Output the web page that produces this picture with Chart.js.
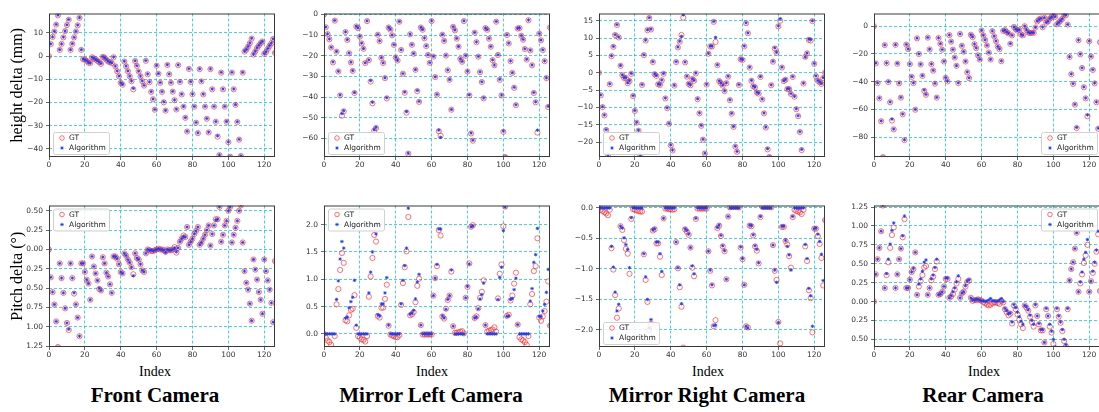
<!DOCTYPE html>
<html>
<head>
<meta charset="utf-8">
<script src="https://cdn.jsdelivr.net/npm/chart.js@4.4.0/dist/chart.umd.min.js"></script>
<style>
  body { margin: 0; width: 1099px; height: 412px; overflow: hidden; background: #fff; position: relative; }
  canvas { position: absolute; }
  .lbl { position: absolute; font-family: "Liberation Serif", serif; color: #000; white-space: nowrap; transform: translateX(-50%); }
  .idx { font-size: 14px; line-height: 14px; top: 365px; }
  .cam { font-size: 21px; line-height: 21px; top: 385px; font-weight: bold; }
</style>
</head>
<body>
<div class="lbl idx" style="left:155px">Index</div>
<div class="lbl idx" style="left:432px">Index</div>
<div class="lbl idx" style="left:708px">Index</div>
<div class="lbl idx" style="left:984px">Index</div>
<div class="lbl cam" style="left:155px">Front Camera</div>
<div class="lbl cam" style="left:431px">Mirror Left Camera</div>
<div class="lbl cam" style="left:707px">Mirror Right Camera</div>
<div class="lbl cam" style="left:983px">Rear Camera</div>
<script>
// ---- data: index 0..126 for every panel ----
var seriesNames = ["GT", "Algorithm"];

var frontHeightGT = [
  0, 5.2, 8.3, 10.6, 13.6, 17.6, 2.7, 5.3, 8.1, 10.8,
  13.4, 15.7, 2.7, 5.3, 8.1, 10.6, 13.3, 16.5, 2.7, -1.3,
  -1.5, -2.0, -2.8, -2.9, -0.5, -1.0, -1.4, -2.0, -2.6, -3.3,
  -0.3, -0.7, -1.5, -2.3, -2.6, -3.0, -0.5, -4.4, -6.5, -8.7,
  -11.5, -12.3, -2.3, -4.4, -6.5, -8.7, -10.8, -14.3, -2.1, -4.2,
  -6.6, -8.7, -10.8, -12.7, -2.0, -7.8, -11.2, -15.4, -18.6, -23.1,
  -4.1, -7.6, -11.5, -15.4, -19.9, -23.5, -3.8, -7.8, -11.5, -15.3,
  -19.0, -23.0, -3.9, -11.1, -16.5, -21.8, -26.6, -32.5, -5.5, -11.1,
  -16.4, -21.8, -28.7, -33.2, -5.6, -10.9, -16.5, -21.8, -27.0, -32.9,
  -5.6, -14.3, -21.8, -28.3, -34.7, -42.7, -7.1, -14.3, -21.8, -28.3,
  -37.1, -43.4, -7.1, -14.3, -21.0, -28.4, -36.0, -43.1, -7.1, 2.0,
  2.8, 4.1, 5.6, 7.6, 0.7, 2.0, 3.5, 4.6, 5.6, 6.3,
  1.0, 1.8, 3.2, 4.5, 5.6, 7.4, 1.4
];
var frontHeightAlg = [
  0, 5.3, 8.3, 10.7, 13.7, 17.7, 2.8, 5.3, 8.2, 10.9,
  13.5, 15.8, 2.8, 5.4, 8.1, 10.7, 13.4, 16.6, 2.8, -1.2,
  -1.5, -1.9, -2.7, -2.9, -0.5, -0.9, -1.4, -1.9, -2.5, -3.2,
  -0.2, -0.7, -1.4, -2.2, -2.6, -2.9, -0.4, -4.3, -6.4, -8.6,
  -11.4, -12.2, -2.2, -4.3, -6.4, -8.6, -10.7, -13.9, -2.0, -4.1,
  -6.5, -8.6, -10.7, -12.6, -1.9, -7.7, -11.1, -15.3, -18.5, -23.0,
  -4.0, -7.5, -11.4, -15.3, -19.7, -23.4, -3.7, -7.7, -11.4, -15.2,
  -18.9, -22.9, -3.8, -11.0, -16.4, -21.7, -26.5, -32.4, -5.4, -11.0,
  -16.3, -21.7, -28.6, -33.1, -5.5, -10.8, -16.4, -21.7, -26.9, -32.8,
  -5.5, -14.2, -21.7, -28.2, -34.4, -42.6, -7.0, -14.2, -21.7, -28.2,
  -37.0, -43.3, -7.0, -14.2, -20.9, -28.3, -35.9, -43.0, -7.0, 2.1,
  2.9, 4.2, 5.7, 7.7, 0.8, 2.1, 3.6, 4.7, 5.7, 6.4,
  1.1, 1.9, 3.3, 4.6, 5.7, 7.5, 1.5
];

var leftHeightGT = [
  0, -6.2, -9.5, -12.0, -16.0, -23.2, -3.0, -18.0, -27.6, -39.2,
  -49.0, -46.9, -8.5, -12.3, -18.8, -23.2, -27.3, -38.0, -5.8, -6.6,
  -10.7, -14.0, -16.6, -23.5, -3.2, -22.1, -32.5, -43.0, -56.2, -55.0,
  -9.8, -12.9, -21.0, -23.5, -30.8, -40.6, -6.3, -7.3, -10.1, -14.7,
  -20.8, -22.3, -3.5, -17.2, -28.7, -37.9, -47.5, -67.4, -9.6, -14.7,
  -19.0, -26.8, -37.1, -42.3, -6.3, -7.4, -11.5, -15.3, -19.6, -23.4,
  -3.2, -20.4, -30.3, -38.8, -56.5, -58.7, -9.8, -12.8, -19.9, -27.0,
  -31.6, -46.1, -6.0, -7.7, -11.7, -15.6, -21.5, -22.9, -3.2, -20.0,
  -27.6, -39.2, -57.6, -61.1, -8.8, -13.4, -20.4, -27.9, -32.7, -40.6,
  -6.6, -7.4, -11.7, -15.6, -22.1, -24.6, -3.5, -19.6, -31.6, -39.2,
  -56.8, -69.0, -9.9, -14.0, -22.6, -28.3, -35.5, -43.9, -6.8, -6.6,
  -10.3, -12.2, -16.7, -21.8, -2.8, -17.4, -24.6, -38.0, -42.5, -57.2,
  -9.3, -12.5, -17.2, -22.6, -30.8, -44.8, -6.3
];
var leftHeightAlg = [
  0, -6.1, -9.4, -11.9, -15.9, -23.0, -2.9, -17.9, -27.5, -39.0,
  -48.0, -46.6, -8.4, -12.2, -18.7, -23.1, -27.2, -37.8, -5.7, -6.5,
  -10.6, -13.9, -16.5, -23.4, -3.1, -22.0, -32.0, -42.5, -55.8, -54.6,
  -9.7, -12.8, -20.9, -23.4, -30.7, -40.3, -6.2, -7.2, -10.0, -14.6,
  -20.7, -22.2, -3.4, -17.1, -28.6, -37.6, -47.0, -67.2, -9.5, -14.6,
  -18.9, -26.7, -36.8, -42.1, -6.2, -7.3, -11.4, -15.2, -19.5, -23.3,
  -3.1, -20.3, -30.2, -38.7, -56.0, -59.5, -9.7, -12.7, -19.8, -26.9,
  -31.5, -46.0, -5.9, -7.6, -11.6, -15.5, -21.4, -22.8, -3.1, -19.9,
  -27.5, -38.9, -57.4, -60.9, -8.7, -13.3, -20.3, -27.8, -32.6, -40.4,
  -6.5, -7.3, -11.6, -15.5, -22.0, -24.5, -3.4, -19.5, -31.4, -39.0,
  -56.5, -68.8, -9.8, -13.9, -22.5, -28.2, -35.3, -43.7, -6.7, -6.5,
  -10.2, -12.1, -16.6, -21.7, -2.7, -17.3, -24.5, -37.8, -42.3, -56.0,
  -9.2, -12.4, -17.1, -22.5, -30.7, -44.5, -6.2
];

var rightHeightGT = [
  0, -6.5, -9.9, -12.3, -16.5, -23.8, -3.3, 4.8, 7.5, 10.9,
  13.8, 10.2, 2.0, -0.7, -1.5, -1.5, -3.0, -2.4, -0.3, -6.7,
  -11.0, -14.4, -16.7, -23.9, -3.5, 5.1, 9.3, 12.3, 15.8, 12.5,
  3.1, -0.4, -0.9, -3.3, -3.5, -2.2, -0.3, -7.4, -10.2, -14.7,
  -20.9, -22.4, -3.7, 3.1, 7.3, 9.0, 10.9, 15.9, 3.0, -1.1,
  -3.2, -3.6, -1.8, -2.3, -0.2, -7.6, -11.7, -15.3, -19.3, -23.3,
  -3.4, 5.5, 7.6, 7.6, 14.7, 8.9, 2.2, -2.4, -3.0, -3.7,
  -5.3, -3.0, -1.1, -7.9, -11.8, -15.6, -21.3, -22.8, -3.5, 3.9,
  3.7, 7.6, 14.3, 11.4, 1.5, -2.3, -3.9, -4.2, -5.7, -6.0,
  -1.2, -7.7, -11.7, -15.8, -22.1, -24.3, -3.6, 3.2, 7.0, 5.8,
  13.4, 15.0, 1.5, -2.4, -2.0, -4.7, -4.7, -6.1, -1.2, -6.9,
  -10.5, -12.5, -17.1, -22.3, -3.1, 4.6, 5.6, 9.5, 9.3, 14.9,
  2.6, -1.0, -2.3, -2.7, -3.2, -1.5, 0
];
var rightHeightAlg = [
  0, -6.4, -9.8, -12.2, -16.4, -23.7, -3.2, 4.9, 7.6, 11.0,
  13.9, 10.3, 2.1, -0.6, -1.4, -1.4, -2.9, -2.2, -0.2, -6.6,
  -10.9, -14.3, -16.6, -23.8, -3.4, 5.2, 9.4, 12.4, 15.9, 12.6,
  3.2, -0.3, -0.8, -3.2, -3.4, -2.1, -0.2, -7.3, -10.1, -14.6,
  -20.8, -22.3, -3.6, 3.2, 7.4, 9.1, 10.5, 16.7, 3.1, -1.0,
  -3.1, -3.5, -1.7, -2.2, -0.1, -7.5, -11.6, -15.2, -19.2, -23.2,
  -3.3, 5.6, 7.7, 7.7, 14.8, 10.2, 2.3, -2.3, -2.9, -3.6,
  -5.2, -2.9, -1.0, -7.8, -11.7, -15.5, -21.2, -22.7, -3.4, 4.0,
  3.8, 7.7, 14.4, 11.5, 1.6, -2.2, -3.8, -4.1, -5.6, -5.9,
  -1.1, -7.6, -11.6, -15.7, -21.9, -24.2, -3.5, 3.3, 7.2, 5.9,
  13.5, 15.6, 1.6, -2.3, -1.9, -4.6, -4.6, -6.0, -1.1, -6.8,
  -10.4, -12.4, -17.0, -22.1, -3.0, 4.5, 5.7, 9.7, 9.6, 15.0,
  2.7, -0.9, -2.2, -2.6, -3.1, -1.4, 0.1
];

var rearHeightGT = [
  0, -26.8, -41.0, -52.0, -68.5, -94.4, -13.6, -26.6, -40.2, -54.8,
  -68.0, -74.4, -13.4, -27.0, -41.2, -51.5, -63.5, -82.1, -13.2, -16.5,
  -27.3, -36.5, -41.0, -60.2, -8.7, -20.0, -27.5, -35.8, -46.6, -49.4,
  -8.2, -16.7, -27.3, -32.0, -41.4, -51.5, -8.5, -12.7, -16.9, -25.4,
  -37.2, -39.8, -6.4, -11.1, -16.9, -22.6, -28.5, -41.0, -5.6, -14.1,
  -18.4, -25.4, -33.2, -37.4, -6.1, -7.8, -12.9, -15.8, -21.0, -24.0,
  -3.1, -6.6, -9.9, -13.9, -19.0, -24.0, -3.5, -7.3, -10.8, -14.6,
  -16.5, -25.2, -3.3, -2.8, -4.2, -5.2, -12.7, -6.6, -0.5, -2.1,
  -3.1, -2.6, -5.9, -6.6, 0, -2.6, -4.5, -4.9, -4.7, -4.7,
  -0.9, 3.5, 4.9, 5.6, -0.7, 6.1, 2.6, 3.5, 5.6, 6.4,
  8.5, 6.8, 1.4, 2.6, 4.0, 5.4, 8.5, 8.0, 1.2, -22.1,
  -34.6, -41.6, -56.5, -73.4, -10.1, -20.2, -30.1, -44.0, -52.0, -64.9,
  -10.8, -21.9, -31.5, -41.2, -54.8, -73.9, -11.5
];
var rearHeightAlg = [
  0, -26.6, -40.8, -51.8, -68.3, -94.2, -13.5, -26.5, -40.0, -54.6,
  -67.0, -74.2, -13.3, -26.8, -41.0, -51.3, -63.3, -81.9, -13.1, -16.4,
  -27.2, -36.3, -40.8, -60.0, -8.6, -19.9, -27.4, -35.6, -46.0, -49.2,
  -8.1, -16.6, -27.2, -31.8, -41.2, -51.3, -8.4, -12.6, -16.8, -25.3,
  -37.0, -39.6, -6.3, -11.0, -16.8, -22.5, -28.4, -40.8, -5.5, -14.0,
  -18.3, -25.3, -33.0, -37.2, -6.0, -7.7, -12.8, -15.7, -20.9, -23.9,
  -3.0, -6.5, -9.8, -13.8, -18.9, -23.9, -3.4, -7.2, -10.7, -14.5,
  -16.4, -25.0, -3.2, -2.7, -4.1, -5.1, -12.5, -6.5, -0.4, -2.0,
  -3.0, -2.5, -5.8, -6.5, 0.1, -2.5, -4.4, -4.8, -4.6, -4.6,
  -0.8, 3.6, 5.0, 5.7, -0.6, 6.2, 2.7, 3.6, 5.7, 6.5,
  8.6, 6.9, 1.5, 2.7, 4.1, 5.5, 8.6, 8.1, 1.3, -22.0,
  -34.4, -41.4, -56.3, -73.0, -10.0, -20.1, -30.0, -43.8, -51.8, -64.0,
  -10.7, -21.8, -31.3, -41.0, -54.6, -73.6, -11.4
];

var frontPitchGT = [
  0, -0.36, -0.55, -0.71, -0.93, -1.26, -0.18, -0.37, -0.56, -0.76,
  -0.95, -1.04, -0.18, -0.37, -0.57, -0.71, -0.88, -1.12, -0.18, -0.18,
  -0.29, -0.39, -0.44, -0.65, -0.09, -0.22, -0.31, -0.40, -0.51, -0.53,
  -0.10, -0.18, -0.30, -0.35, -0.45, -0.56, -0.09, -0.09, -0.12, -0.19,
  -0.29, -0.31, -0.05, -0.08, -0.13, -0.17, -0.23, -0.32, -0.05, -0.11,
  -0.13, -0.19, -0.27, -0.29, -0.05, 0, -0.01, -0.02, -0.02, -0.01,
  0, 0.01, 0, 0, -0.01, -0.03, 0, -0.01, -0.01, 0,
  0.03, -0.04, 0.02, 0.10, 0.14, 0.18, 0.16, 0.29, 0.06, 0.10,
  0.14, 0.20, 0.24, 0.29, 0.06, 0.09, 0.14, 0.19, 0.25, 0.31,
  0.05, 0.20, 0.31, 0.39, 0.39, 0.55, 0.10, 0.19, 0.31, 0.37,
  0.50, 0.55, 0.09, 0.19, 0.28, 0.37, 0.50, 0.57, 0.09, -0.28,
  -0.43, -0.52, -0.70, -0.92, -0.13, -0.26, -0.39, -0.55, -0.65, -0.83,
  -0.13, -0.28, -0.40, -0.52, -0.69, -0.94, -0.15
];
var frontPitchAlg = [
  0, -0.36, -0.55, -0.71, -0.93, -1.26, -0.18, -0.37, -0.56, -0.76,
  -0.95, -1.03, -0.18, -0.37, -0.56, -0.71, -0.88, -1.12, -0.18, -0.18,
  -0.29, -0.39, -0.44, -0.65, -0.09, -0.22, -0.31, -0.40, -0.50, -0.53,
  -0.10, -0.18, -0.30, -0.35, -0.45, -0.56, -0.09, -0.09, -0.12, -0.19,
  -0.29, -0.31, -0.05, -0.08, -0.13, -0.17, -0.23, -0.34, -0.05, -0.11,
  -0.13, -0.19, -0.27, -0.29, -0.05, 0, -0.01, -0.01, -0.02, -0.01,
  0, 0.01, 0, 0, -0.01, -0.04, 0, -0.01, -0.01, 0,
  0.02, -0.03, 0.02, 0.10, 0.14, 0.17, 0.16, 0.29, 0.06, 0.10,
  0.14, 0.20, 0.24, 0.29, 0.06, 0.09, 0.14, 0.19, 0.25, 0.31,
  0.05, 0.20, 0.31, 0.38, 0.39, 0.55, 0.10, 0.19, 0.31, 0.37,
  0.50, 0.55, 0.09, 0.19, 0.28, 0.37, 0.50, 0.57, 0.09, -0.28,
  -0.43, -0.52, -0.70, -0.92, -0.13, -0.26, -0.39, -0.55, -0.65, -0.83,
  -0.13, -0.28, -0.40, -0.52, -0.69, -0.94, -0.15
];

var leftPitchGT = [
  0, -0.07, -0.12, -0.15, -0.20, -0.28, -0.04, 0.54, 0.82, 1.17,
  1.48, 1.30, 0.25, 0.23, 0.34, 0.44, 0.46, 0.71, 0.11, -0.04,
  -0.07, -0.10, -0.11, -0.14, -0.04, 0.68, 1.05, 1.39, 1.81, 1.69,
  0.33, 0.30, 0.48, 0.48, 0.64, 0.90, 0.15, -0.01, -0.03, -0.04,
  -0.06, -0.06, -0.02, 0.53, 0.93, 1.22, 1.51, 2.14, 0.34, 0.36,
  0.40, 0.58, 0.88, 1.01, 0.16, -0.01, -0.01, -0.01, -0.01, -0.01,
  -0.01, 0.70, 1.02, 1.24, 1.90, 1.80, 0.32, 0.28, 0.46, 0.62,
  0.70, 1.14, 0.14, 0.02, 0.02, 0.03, 0.04, 0.05, 0.01, 0.66,
  0.86, 1.29, 1.96, 1.99, 0.29, 0.32, 0.47, 0.66, 0.77, 0.98,
  0.16, 0.04, 0.06, 0.07, 0.08, 0.12, 0.04, 0.65, 1.10, 1.27,
  1.97, 2.33, 0.33, 0.35, 0.61, 0.70, 0.92, 1.12, 0.17, -0.06,
  -0.10, -0.12, -0.15, -0.20, -0.04, 0.54, 0.73, 1.15, 1.24, 1.75,
  0.30, 0.24, 0.32, 0.42, 0.59, 0.96, 0.15
];
var leftPitchAlg = [
  0, 0, 0, 0, 0, 0, 0, 0.63, 0.97, 1.37,
  1.69, 1.57, 0.29, 0.31, 0.48, 0.59, 0.67, 0.98, 0.16, 0,
  0, 0, 0, 0, 0, 0.75, 1.13, 1.50, 1.98, 1.83,
  0.35, 0.33, 0.55, 0.55, 0.75, 1.03, 0.16, 0, 0, 0,
  0, 0, 0, 0.55, 0.98, 1.25, 1.57, 2.30, 0.36, 0.38,
  0.43, 0.64, 0.95, 1.09, 0.16, 0, 0, 0, 0, 0,
  0, 0.70, 1.02, 1.27, 1.92, 1.92, 0.33, 0.29, 0.45, 0.63,
  0.70, 1.17, 0.14, 0, 0, 0, 0, 0, 0, 0.66,
  0.87, 1.28, 1.96, 1.98, 0.29, 0.31, 0.46, 0.64, 0.72, 0.93,
  0.16, 0, 0, 0, 0, 0, 0, 0.63, 1.03, 1.22,
  1.89, 2.32, 0.32, 0.33, 0.63, 0.65, 0.81, 1.02, 0.17, 0,
  0, 0, 0, 0, 0, 0.60, 0.83, 1.31, 1.45, 1.93,
  0.32, 0.32, 0.42, 0.54, 0.76, 1.18, 0.15
];

var rightPitchGT = [
  0, -0.03, -0.05, -0.07, -0.09, -0.12, -0.03, -0.66, -1.01, -1.43,
  -1.80, -1.65, -0.30, -0.36, -0.53, -0.67, -0.75, -1.08, -0.18, -0.02,
  -0.03, -0.04, -0.05, -0.06, -0.06, -0.76, -1.18, -1.54, -2.00, -1.90,
  -0.37, -0.35, -0.58, -0.58, -0.80, -1.10, -0.17, -0.01, -0.01, -0.02,
  -0.02, -0.03, -0.02, -0.56, -0.99, -1.30, -1.62, -2.29, -0.35, -0.39,
  -0.44, -0.65, -0.98, -1.12, -0.18, -0.01, -0.01, -0.01, -0.01, -0.01,
  -0.01, -0.71, -1.03, -1.27, -1.94, -1.84, -0.33, -0.29, -0.46, -0.63,
  -0.71, -1.17, -0.14, 0.01, 0.02, 0.02, 0.02, 0.02, 0.01, -0.65,
  -0.84, -1.26, -1.94, -1.96, -0.29, -0.30, -0.45, -0.63, -0.70, -0.91,
  -0.15, 0.02, 0.02, 0.02, 0.02, 0.02, 0.01, -0.61, -1.03, -1.18,
  -1.87, -2.22, -0.31, -0.31, -0.54, -0.60, -0.79, -0.98, -0.15, -0.03,
  -0.05, -0.06, -0.07, -0.10, -0.03, -0.63, -0.87, -1.35, -1.48, -2.04,
  -0.34, -0.34, -0.46, -0.59, -0.82, -1.27, -0.20
];
var rightPitchAlg = [
  0, 0, 0, 0, 0, 0, 0, -0.63, -0.97, -1.38,
  -1.69, -1.58, -0.30, -0.33, -0.49, -0.60, -0.68, -0.98, -0.16, 0,
  0, 0, 0, 0, 0, -0.75, -1.13, -1.50, -1.97, -1.83,
  -0.36, -0.34, -0.56, -0.56, -0.75, -1.04, -0.17, 0, 0, 0,
  0, 0, 0, -0.56, -0.98, -1.26, -1.57, -2.29, -0.34, -0.37,
  -0.43, -0.65, -0.95, -1.08, -0.17, 0, 0, 0, 0, 0,
  0, -0.71, -1.02, -1.26, -1.93, -1.92, -0.32, -0.28, -0.45, -0.62,
  -0.70, -1.17, -0.14, 0, 0, 0, 0, 0, 0, -0.64,
  -0.83, -1.26, -1.94, -1.97, -0.28, -0.29, -0.44, -0.62, -0.68, -0.90,
  -0.14, 0, 0, 0, 0, 0, 0, -0.61, -1.02, -1.22,
  -1.88, -2.29, -0.30, -0.30, -0.53, -0.63, -0.77, -1.02, -0.14, 0,
  0, 0, 0, 0, 0, -0.60, -0.83, -1.32, -1.44, -1.94,
  -0.34, -0.33, -0.43, -0.55, -0.76, -1.19, -0.20
];

var rearPitchGT = [
  0, 0.36, 0.56, 0.71, 0.93, 1.27, 0.18, 0.35, 0.52, 0.71,
  0.88, 0.98, 0.18, 0.36, 0.56, 0.70, 0.85, 1.09, 0.18, 0.18,
  0.29, 0.39, 0.43, 0.65, 0.09, 0.20, 0.27, 0.35, 0.45, 0.47,
  0.09, 0.18, 0.28, 0.33, 0.43, 0.53, 0.09, 0.10, 0.13, 0.20,
  0.30, 0.30, 0.05, 0.07, 0.10, 0.16, 0.24, 0.30, 0.05, 0.11,
  0.13, 0.20, 0.26, 0.28, 0.05, 0.01, 0.02, 0.02, 0.03, 0.02,
  0.01, -0.01, -0.02, -0.04, -0.05, -0.04, -0.02, -0.01, -0.01, -0.02,
  -0.03, 0.01, -0.01, -0.10, -0.14, -0.18, -0.16, -0.29, -0.05, -0.10,
  -0.17, -0.24, -0.30, -0.35, -0.05, -0.08, -0.12, -0.20, -0.27, -0.33,
  -0.05, -0.19, -0.30, -0.38, -0.38, -0.54, -0.10, -0.19, -0.33, -0.41,
  -0.56, -0.62, -0.10, -0.20, -0.28, -0.39, -0.52, -0.59, -0.10, 0.28,
  0.43, 0.52, 0.70, 0.91, 0.13, 0.24, 0.36, 0.51, 0.61, 0.75,
  0.13, 0.27, 0.38, 0.50, 0.66, 0.89, 0.14
];
var rearPitchAlg = [
  0, 0.36, 0.56, 0.71, 0.93, 1.27, 0.18, 0.37, 0.56, 0.76,
  0.94, 1.04, 0.18, 0.36, 0.56, 0.70, 0.87, 1.13, 0.18, 0.18,
  0.29, 0.39, 0.44, 0.65, 0.09, 0.23, 0.30, 0.40, 0.52, 0.55,
  0.09, 0.18, 0.30, 0.35, 0.45, 0.56, 0.09, 0.10, 0.13, 0.20,
  0.31, 0.31, 0.05, 0.08, 0.13, 0.18, 0.26, 0.34, 0.05, 0.11,
  0.13, 0.21, 0.27, 0.29, 0.05, 0.02, 0.02, 0.03, 0.03, 0.02,
  0.01, 0.01, 0.00, 0.01, 0.02, 0.04, 0.01, 0.01, 0.00, 0.01,
  0.02, 0.04, 0.00, -0.09, -0.12, -0.16, -0.15, -0.27, -0.04, -0.08,
  -0.14, -0.20, -0.26, -0.30, -0.05, -0.07, -0.11, -0.18, -0.25, -0.30,
  -0.04, -0.19, -0.29, -0.37, -0.37, -0.54, -0.09, -0.19, -0.30, -0.39,
  -0.50, -0.60, -0.09, -0.19, -0.27, -0.37, -0.50, -0.57, -0.09, 0.28,
  0.43, 0.52, 0.70, 0.91, 0.13, 0.26, 0.39, 0.56, 0.65, 0.82,
  0.13, 0.27, 0.40, 0.52, 0.68, 0.93, 0.14
];

// ---- layout of the 2x4 grid (page pixels) ----
var colLeft = [49, 324, 599, 874];
var rowTop = [10, 202];
var plotW = 226;
var plotH = [147, 145];
var padL = 49, padT = 4, padR = 6, padB = 20;

var panels = [
  {col: 0, row: 0, gt: frontHeightGT, alg: frontHeightAlg, min: -43.5, max: 18.4, step: 10, dec: 0, abs: false, legend: 'bottom-left', ytitle: 'height delta (mm)'},
  {col: 1, row: 0, gt: leftHeightGT, alg: leftHeightAlg, min: -69, max: 0.47, step: 10, dec: 0, abs: false, legend: 'bottom-left'},
  {col: 2, row: 0, gt: rightHeightGT, alg: rightHeightAlg, min: -24.3, max: 17.1, step: 5, dec: 0, abs: false, legend: 'bottom-left'},
  {col: 3, row: 0, gt: rearHeightGT, alg: rearHeightAlg, min: -94.3, max: 9.2, step: 20, dec: 0, abs: false, legend: 'bottom-right'},
  {col: 0, row: 1, gt: frontPitchGT, alg: frontPitchAlg, min: -1.26, max: 0.568, step: 0.25, dec: 2, abs: true, legend: 'top-left', ytitle: 'Pitch delta (\u00b0)'},
  {col: 1, row: 1, gt: leftPitchGT, alg: leftPitchAlg, min: -0.24, max: 2.35, step: 0.5, dec: 1, abs: false, legend: 'top-left'},
  {col: 2, row: 1, gt: rightPitchGT, alg: rightPitchAlg, min: -2.28, max: 0.04, step: 0.5, dec: 1, abs: false, legend: 'bottom-left'},
  {col: 3, row: 1, gt: rearPitchGT, alg: rearPitchAlg, min: -0.6, max: 1.27, step: 0.25, dec: 2, abs: true, legend: 'top-right'}
];

var gridColor = 'rgba(0,195,205,0.9)';
var gtColor = 'rgba(255,45,45,0.75)';
var algColor = 'rgba(25,60,255,0.85)';

Chart.defaults.font.family = 'DejaVu Sans';
Chart.defaults.color = '#333';

function toPoints(arr) {
  return arr.map(function(v, i) { return {x: i, y: v}; });
}

// spines drawn as a full box around the plot area
var frameBox = {
  id: 'frameBox',
  afterDatasetsDraw: function(chart) {
    var a = chart.chartArea, ctx = chart.ctx;
    ctx.save();
    ctx.strokeStyle = '#3a3a3a';
    ctx.lineWidth = 1;
    ctx.strokeRect(a.left + 0.5, a.top + 0.5, a.right - a.left - 1, a.bottom - a.top - 1);
    ctx.restore();
  }
};

// matplotlib-like legend drawn inside the axes
var innerLegend = {
  id: 'innerLegend',
  afterDraw: function(chart, args, opts) {
    var a = chart.chartArea, ctx = chart.ctx;
    var w = 56, h = 22;
    var x = opts.where.indexOf('left') >= 0 ? a.left + 4 : a.right - w - 3;
    var y = opts.where.indexOf('top') >= 0 ? a.top + 3 : a.bottom - h - 3;
    ctx.save();
    ctx.beginPath();
    ctx.roundRect(x + 0.5, y + 0.5, w, h, 2);
    ctx.fillStyle = 'rgba(255,255,255,0.85)';
    ctx.fill();
    ctx.strokeStyle = '#d0d0d0';
    ctx.lineWidth = 1;
    ctx.stroke();

    // GT marker
    ctx.beginPath();
    ctx.arc(x + 9, y + 6, 2.3, 0, Math.PI * 2);
    ctx.strokeStyle = gtColor;
    ctx.lineWidth = 0.9;
    ctx.stroke();
    // Algorithm marker (small star)
    var cx = x + 9, cy = y + 16, r = 1.7;
    ctx.beginPath();
    ctx.strokeStyle = algColor;
    ctx.lineWidth = 1;
    ctx.moveTo(cx - r, cy); ctx.lineTo(cx + r, cy);
    ctx.moveTo(cx, cy - r); ctx.lineTo(cx, cy + r);
    ctx.moveTo(cx - r * 0.7, cy - r * 0.7); ctx.lineTo(cx + r * 0.7, cy + r * 0.7);
    ctx.moveTo(cx - r * 0.7, cy + r * 0.7); ctx.lineTo(cx + r * 0.7, cy - r * 0.7);
    ctx.stroke();

    ctx.fillStyle = '#222';
    ctx.font = '7.5px "DejaVu Sans"';
    ctx.textBaseline = 'middle';
    ctx.fillText(seriesNames[0], x + 16, y + 6.5);
    ctx.fillText(seriesNames[1], x + 16, y + 16.5);
    ctx.restore();
  }
};

panels.forEach(function(p) {
  var L = colLeft[p.col], T = rowTop[p.row], H = plotH[p.row];
  var cv = document.createElement('canvas');
  cv.width = plotW + padL + padR;
  cv.height = H + padT + padB;
  cv.style.left = (L - padL) + 'px';
  cv.style.top = (T - padT) + 'px';
  document.body.appendChild(cv);

  new Chart(cv.getContext('2d'), {
    type: 'scatter',
    data: {
      datasets: [{
        label: seriesNames[0],
        data: toPoints(p.gt),
        pointStyle: 'circle',
        pointRadius: 2.6,
        pointBorderWidth: 0.9,
        borderColor: gtColor,
        backgroundColor: 'rgba(0,0,0,0)',
        order: 2,
        clip: 0
      }, {
        label: seriesNames[1],
        data: toPoints(p.alg),
        pointStyle: 'star',
        pointRadius: 1.7,
        pointBorderWidth: 1,
        borderColor: algColor,
        backgroundColor: algColor,
        order: 1,
        clip: 0
      }]
    },
    options: {
      responsive: false,
      animation: false,
      events: [],
      devicePixelRatio: 1,
      layout: {padding: {left: 0, top: padT, right: padR, bottom: 0}},
      plugins: {
        legend: {display: false},
        tooltip: {enabled: false},
        innerLegend: {where: p.legend}
      },
      scales: {
        x: {
          type: 'linear',
          min: 0, max: 126,
          afterFit: function(s) { s.height = padB; },
          ticks: {stepSize: 20, includeBounds: false, autoSkip: false, maxRotation: 0, padding: 1,
                  font: {size: 7.5}, color: '#333'},
          grid: {color: gridColor, lineWidth: 0.8, tickLength: 3, tickColor: '#444', tickWidth: 0.8},
          border: {display: false, dash: [3, 2]}
        },
        y: {
          min: p.min, max: p.max,
          afterFit: function(s) { s.width = padL; },
          title: {
            display: !!p.ytitle,
            text: p.ytitle || '',
            color: '#000',
            font: {family: '"Liberation Serif"', size: 16},
            padding: {top: 8, bottom: 0}
          },
          ticks: {
            stepSize: p.step, includeBounds: false, autoSkip: false, padding: 3,
            font: {size: 7.5}, color: '#333',
            callback: function(v) {
              var n = p.abs ? Math.abs(v) : v;
              var s = n.toFixed(p.dec);
              if (/^-0(\.0+)?$/.test(s)) s = s.slice(1);
              return s.replace('-', '\u2212');
            }
          },
          grid: {color: gridColor, lineWidth: 0.8, tickLength: 3, tickColor: '#444', tickWidth: 0.8},
          border: {display: false, dash: [3, 2]}
        }
      }
    },
    plugins: [frameBox, innerLegend]
  });
});
</script>
</body>
</html>
